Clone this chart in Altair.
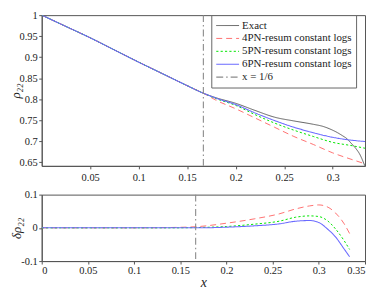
import altair as alt
import pandas as pd

series_names = ["Exact", "4PN-resum constant logs", "5PN-resum constant logs",
                "6PN-resum constant logs", "x = 1/6"]
colors = ["#505050", "#ff6a6a", "#00e600", "#6a6aff", "#8a8a8a"]
dashes = [[1, 0], [6, 4], [2.2, 2.2], [1, 0], [7, 3, 1.5, 3]]
widths = [0.9, 1.1, 2.4, 1.0, 1.0]

# shared early part (all curves coincide)
x_common = [0.0, 0.025, 0.05, 0.075, 0.1, 0.125, 0.15, 0.1667]
rho_common = [1.0, 0.973, 0.946, 0.917, 0.888, 0.860, 0.832, 0.814]

x_exact_tail = [0.18, 0.2, 0.22, 0.24, 0.26, 0.28, 0.29, 0.297, 0.305, 0.31, 0.315, 0.319, 0.324, 0.3276, 0.3333]
rho_exact_tail = [0.803, 0.790, 0.773, 0.757, 0.748, 0.740, 0.735, 0.729, 0.720, 0.713, 0.705, 0.695, 0.682, 0.670, 0.640]

x_tail = [0.18, 0.2, 0.22, 0.24, 0.26, 0.28, 0.3, 0.32, 0.3333]
rho_4pn_tail = [0.797, 0.777, 0.755, 0.733, 0.711, 0.692, 0.672, 0.656, 0.646]
rho_5pn_tail = [0.801, 0.785, 0.763, 0.743, 0.726, 0.711, 0.697, 0.689, 0.683]
rho_6pn_tail = [0.802, 0.787, 0.767, 0.749, 0.733, 0.720, 0.709, 0.702, 0.699]

x_delta = [0.0, 0.1, 0.14, 0.17, 0.2, 0.23, 0.257, 0.275, 0.29, 0.3, 0.31, 0.318, 0.327, 0.3333]
delta_4pn = [0.0, 0.0, 0.001, 0.004, 0.014, 0.027, 0.042, 0.057, 0.066, 0.069, 0.062, 0.045, 0.014, -0.017]
delta_5pn = [0.0, 0.0, 0.0, 0.001, 0.004, 0.011, 0.020, 0.032, 0.036, 0.034, 0.020, -0.003, -0.037, -0.065]
delta_6pn = [0.0, 0.0, 0.0, 0.0, 0.002, 0.006, 0.012, 0.020, 0.022, 0.016, -0.005, -0.027, -0.062, -0.087]

x_marker = 1.0 / 6.0

top_x_ticks = [0.05, 0.1, 0.15, 0.2, 0.25, 0.3]
top_y_ticks = [0.65, 0.7, 0.75, 0.8, 0.85, 0.9, 0.95, 1.0]
bot_x_ticks = [0.0, 0.05, 0.1, 0.15, 0.2, 0.25, 0.3, 0.35]
bot_y_ticks = [-0.1, 0.0, 0.1]

rows = []
for name, xt, yt in [(series_names[0], x_exact_tail, rho_exact_tail),
                     (series_names[1], x_tail, rho_4pn_tail),
                     (series_names[2], x_tail, rho_5pn_tail),
                     (series_names[3], x_tail, rho_6pn_tail)]:
    for xv, yv in zip(x_common + xt, rho_common + yt):
        rows.append({"x": xv, "rho": yv, "series": name})
top_df = pd.DataFrame(rows)

drows = []
for name, ys in [(series_names[1], delta_4pn), (series_names[2], delta_5pn), (series_names[3], delta_6pn)]:
    for xv, yv in zip(x_delta, ys):
        drows.append({"x": xv, "delta": yv, "series": name})
bot_df = pd.DataFrame(drows)

marker_df = pd.DataFrame({"x": [x_marker], "series": [series_names[4]]})

FONT = "Liberation Serif"
leg = alt.Legend(title=None, orient="none", legendX=171, legendY=0,
                 fillColor="white", strokeColor="#666", padding=4,
                 labelFont=FONT, labelFontSize=11, labelColor="#222",
                 symbolType="stroke", symbolSize=529, rowPadding=0, clipHeight=13,
                 labelOffset=2, cornerRadius=0)

cscale = alt.Scale(domain=series_names, range=colors)
dscale = alt.Scale(domain=series_names, range=dashes)
wscale = alt.Scale(domain=series_names, range=widths)

def style_enc(legend):
    return dict(
        color=alt.Color("series:N", scale=cscale, legend=legend),
        strokeDash=alt.StrokeDash("series:N", scale=dscale, legend=legend),
        strokeWidth=alt.StrokeWidth("series:N", scale=wscale, legend=legend),
    )

xs_top = alt.X("x:Q", scale=alt.Scale(domain=[0, 1/3], nice=False),
               axis=alt.Axis(values=top_x_ticks, title=None, format="~g", labelPadding=4))
ys_top = alt.Y("rho:Q", scale=alt.Scale(domain=[0.641, 1.0], nice=False, zero=False),
               axis=alt.Axis(values=top_y_ticks, title="ρ₂₂", format="~g"))

top_lines = alt.Chart(top_df).mark_line(interpolate="monotone", clip=True).encode(
    x=xs_top, y=ys_top, order="x:Q", **style_enc(leg))
top_rule = alt.Chart(marker_df).mark_rule().encode(
    x=alt.X("x:Q"), **style_enc(leg))
top = alt.layer(top_lines, top_rule).properties(width=326, height=152)

xs_bot = alt.X("x:Q", scale=alt.Scale(domain=[0, 0.35], nice=False),
               axis=alt.Axis(values=bot_x_ticks, title="x", format="~g",
                             titleFontStyle="italic", titleFontSize=14, titlePadding=0))
ys_bot = alt.Y("delta:Q", scale=alt.Scale(domain=[-0.1, 0.1], nice=False),
               axis=alt.Axis(values=bot_y_ticks, title="δρ₂₂",
                             labelExpr="replace(format(datum.value, '~g'), '\u2212', '-')"))

bot_lines = alt.Chart(bot_df).mark_line(interpolate="monotone", clip=True).encode(
    x=xs_bot, y=ys_bot, order="x:Q", **style_enc(None))
bot_rule = alt.Chart(marker_df).mark_rule().encode(
    x=alt.X("x:Q"), **style_enc(None))
bot = alt.layer(bot_lines, bot_rule).properties(width=326, height=67)

chart = alt.vconcat(top, bot, spacing=5).resolve_scale(
    color="independent", strokeDash="independent", strokeWidth="independent"
).properties(padding=0, background="white").configure_axis(
    labelFont=FONT, labelFontSize=10.5, labelColor="#222",
    titleFont=FONT, titleFontSize=13, titleFontWeight="normal", titleFontStyle="italic",
    titleColor="#222", titlePadding=-3,
    tickSize=3, labelPadding=1.5, domainColor="#555", tickColor="#555", grid=False,
).configure_axisX(titlePadding=0).configure_view(stroke="#555", strokeWidth=1)

chart.save("out.html", embed_options={"renderer": "svg", "actions": False})
